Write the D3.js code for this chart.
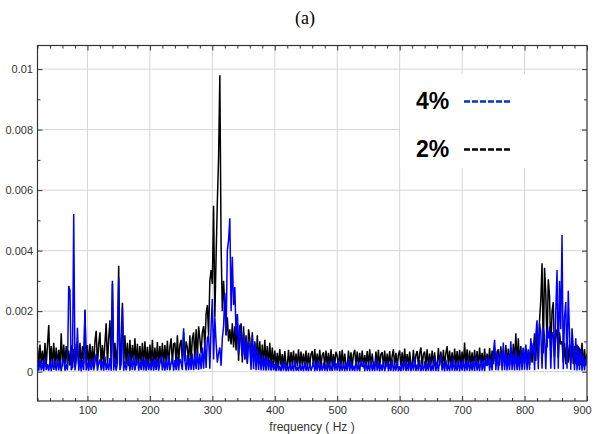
<!DOCTYPE html>
<html>
<head>
<meta charset="utf-8">
<script src="https://cdn.jsdelivr.net/npm/d3@7"></script>
<style>
  body { margin: 0; background: #fff; }
  svg { display: block; }
</style>
</head>
<body>
<svg id="chart" width="595" height="434"></svg>
<script>
// Spectrum sampling grid (Hz)
const freqStart = 20;
const freqStep = 2;

// Amplitude spectra, in units of 1e-5, one value per 2 Hz from 20 Hz to 900 Hz
const amp2pct = [
  82,18,90,25,70,15,95,22,88,154,
  20,85,15,95,25,80,18,72,22,127,
  18,90,25,85,15,70,20,88,12,75,
  15,92,70,20,95,18,85,25,205,20,
  88,15,92,22,85,18,100,135,20,90,
  130,18,88,25,95,160,20,110,170,30,
  300,20,95,25,85,350,20,90,228,22,
  120,25,95,18,105,22,88,30,110,20,
  92,18,85,25,95,20,100,22,82,18,
  90,22,105,18,80,25,98,20,85,28,
  95,20,88,30,102,22,80,110,25,92,
  95,25,120,30,88,105,28,130,35,100,
  80,30,120,35,110,130,40,140,45,150,
  110,60,130,150,80,190,220,120,300,336,
  290,548,180,380,560,708,980,420,200,300,
  210,120,180,100,140,90,160,80,150,70,
  190,35,130,160,30,150,40,120,25,140,
  110,25,130,30,95,20,120,28,100,22,
  90,20,105,25,85,18,95,22,80,20,
  70,18,62,15,75,20,58,14,68,22,
  20,72,15,65,22,70,16,60,18,74,
  15,66,22,60,18,70,14,62,20,58,
  68,16,75,20,60,15,72,18,55,64,
  18,70,20,62,14,74,18,58,22,66,
  52,15,68,20,72,16,60,22,14,70,
  18,64,15,58,72,20,66,16,62,18,
  70,14,55,20,68,18,74,15,60,22,
  16,66,20,72,14,58,64,18,70,15,
  60,20,68,16,52,74,18,62,15,56,
  70,18,64,15,76,20,58,16,66,22,
  20,72,15,55,68,18,62,80,16,58,
  66,18,74,15,60,22,70,16,64,20,
  18,78,20,66,15,72,18,62,84,20,
  70,18,64,15,76,22,68,16,72,20,
  66,20,96,18,74,15,70,22,64,18,
  72,20,68,15,80,22,62,18,76,20,
  60,22,78,18,70,25,82,18,66,74,
  20,84,25,72,18,88,25,76,20,80,
  22,92,25,127,20,110,25,85,20,78,
  25,80,30,74,22,90,30,66,127,35,
  150,40,170,236,358,60,343,260,80,305,
  250,60,200,230,50,120,140,45,130,90,
  100,30,95,25,105,30,90,28,100,25,
  85,25,90,20,80,22,95,18,75,20,
  60
];

const amp4pct = [
  42,3,38,4,30,2,45,5,25,3,
  35,2,40,6,28,3,45,4,32,2,
  30,45,3,25,4,283,268,5,15,521,
  4,35,145,3,40,2,38,5,200,4,
  30,3,38,5,45,4,30,60,3,28,
  40,4,35,3,50,5,28,4,45,3,
  290,4,40,3,30,310,5,25,210,3,
  35,4,28,60,3,40,5,55,4,30,
  45,3,32,5,50,4,38,3,42,5,
  30,4,48,3,35,5,44,3,28,52,
  4,40,3,36,5,55,4,30,45,3,
  38,5,50,4,42,30,5,143,35,4,
  55,5,45,6,60,5,50,8,70,6,
  60,8,80,10,95,12,110,120,10,150,
  240,40,180,95,30,60,80,20,110,150,
  260,120,400,435,507,200,380,220,280,120,
  190,60,155,90,50,130,40,110,30,95,
  85,6,120,8,100,5,75,6,60,4,
  55,4,45,3,50,4,40,3,35,4,
  25,2,32,3,18,2,28,3,35,2,
  20,2,30,3,24,2,38,3,16,2,
  28,3,22,2,34,3,18,2,30,3,
  15,36,2,26,3,40,2,22,3,30,
  3,24,2,35,3,20,2,42,3,28,
  3,38,2,22,3,30,2,26,3,45,
  2,32,3,20,2,36,3,24,2,40,
  16,28,2,34,3,22,2,38,3,26,
  2,44,3,30,2,24,3,36,2,20,
  33,2,26,3,40,2,22,3,35,2,
  18,2,30,3,42,2,25,3,36,2,
  28,3,45,2,24,3,38,2,20,3,
  34,2,26,3,40,2,22,3,48,2,
  30,2,36,55,3,28,2,40,3,25,
  2,34,3,44,2,26,3,38,2,30,
  3,40,2,32,3,46,2,28,3,36,
  2,50,3,30,2,42,3,35,2,48,
  18,55,3,40,4,60,105,5,62,4,
  45,70,4,96,5,65,4,55,5,100,
  5,60,4,75,5,50,4,70,5,80,
  6,90,5,70,6,110,60,95,5,120,
  170,8,160,130,10,145,120,8,140,110,
  150,10,130,120,8,200,336,10,300,140,
  452,8,180,230,10,267,120,6,143,80,
  5,110,4,85,5,75,3,55,4,45,
  30
];

const ampUnit = 1e-5;

const xTickValues = [100, 200, 300, 400, 500, 600, 700, 800, 900];
const xGridValues = [100, 200, 300, 400, 500, 600, 700, 800];
const yTickValues = [0, 0.002, 0.004, 0.006, 0.008, 0.01];
const yTickLabels = ["0", "0.002", "0.004", "0.006", "0.008", "0.01"];

const seriesNames = ["2%", "4%"];
const legendOrder = ["4%", "2%"];

// ---------------------------------------------------------------
const svg = d3.select("#chart");
const plot = { left: 37.5, right: 587, top: 45.5, bottom: 401 };

const x = d3.scaleLinear().domain([20, 900]).range([plot.left, plot.right]);
const y = d3.scaleLinear().domain([-0.00097, 0.01078]).range([plot.bottom, plot.top]);

const colors = { "2%": "#000000", "4%": "#0000ff" };
const legendColors = { "2%": "#000000", "4%": "#0033cc" };

const series = {
  "2%": amp2pct.map((v, i) => ({ f: freqStart + i * freqStep, a: v * ampUnit })),
  "4%": amp4pct.map((v, i) => ({ f: freqStart + i * freqStep, a: v * ampUnit }))
};

svg.append("defs").append("clipPath").attr("id", "plotClip")
  .append("rect")
  .attr("x", plot.left).attr("y", plot.top)
  .attr("width", plot.right - plot.left).attr("height", plot.bottom - plot.top);

// grid
const grid = svg.append("g").attr("stroke", "#d6d6d6").attr("stroke-width", 1);
grid.selectAll("line.v").data(xGridValues).join("line")
  .attr("x1", d => x(d)).attr("x2", d => x(d))
  .attr("y1", plot.top).attr("y2", plot.bottom);
grid.selectAll("line.h").data(yTickValues).join("line")
  .attr("x1", plot.left).attr("x2", plot.right)
  .attr("y1", d => y(d)).attr("y2", d => y(d));

// spectra (2% underneath, 4% on top)
const line = d3.line().x(d => x(d.f)).y(d => y(d.a));
const dataG = svg.append("g").attr("clip-path", "url(#plotClip)");
seriesNames.forEach(name => {
  dataG.append("path")
    .datum(series[name])
    .attr("fill", "none")
    .attr("stroke", colors[name])
    .attr("stroke-width", 1.5)
    .attr("stroke-linejoin", "bevel")
    .attr("d", line);
});

// legend panel
svg.append("rect")
  .attr("x", 400).attr("y", 74).attr("width", 180).attr("height", 94)
  .attr("fill", "#fff");
const legend = svg.append("g");
legendOrder.forEach((name, i) => {
  const cy = 101.5 + i * 48;
  legend.append("text")
    .attr("x", 416).attr("y", cy + 7.5)
    .attr("font-family", "'Liberation Sans', Arial, sans-serif")
    .attr("font-weight", "bold").attr("font-size", 23)
    .attr("fill", "#000")
    .text(name);
  legend.append("line")
    .attr("x1", 464).attr("x2", 511)
    .attr("y1", cy).attr("y2", cy)
    .attr("stroke", legendColors[name])
    .attr("stroke-width", 2.5)
    .attr("stroke-dasharray", "6,2");
});

// axes with inward ticks on all four sides
const fontFam = "'Liberation Sans', Arial, sans-serif";
const xMinor = d3.range(20, 901, 20).filter(v => v % 100 !== 0);
const yMinor = d3.range(0, 11).map(k => k * 0.001).filter((v, k) => k % 2 === 1);

function styleAxis(g) {
  g.select(".domain").remove();
  g.selectAll(".tick line").attr("stroke", "#333");
  g.selectAll(".tick text").attr("fill", "#333").attr("font-family", fontFam).attr("font-size", 11);
}

const xLabelAxis = svg.append("g").attr("transform", `translate(0,${plot.bottom})`)
  .call(d3.axisBottom(x).tickValues(xTickValues).tickFormat(d3.format("d"))
    .tickSizeInner(-5).tickSizeOuter(0).tickPadding(5))
  .call(styleAxis);
// keep the last label inside the page
xLabelAxis.selectAll(".tick text").filter(d => d === 900).attr("dx", -5);

svg.append("g").attr("transform", `translate(0,${plot.bottom})`)
  .call(d3.axisBottom(x).tickValues(xMinor).tickFormat("").tickSizeInner(-3).tickSizeOuter(0))
  .call(styleAxis);
svg.append("g").attr("transform", `translate(0,${plot.top})`)
  .call(d3.axisTop(x).tickValues(xTickValues).tickFormat("").tickSizeInner(-5).tickSizeOuter(0))
  .call(styleAxis);
svg.append("g").attr("transform", `translate(0,${plot.top})`)
  .call(d3.axisTop(x).tickValues(xMinor).tickFormat("").tickSizeInner(-3).tickSizeOuter(0))
  .call(styleAxis);

svg.append("g").attr("transform", `translate(${plot.left},0)`)
  .call(d3.axisLeft(y).tickValues(yTickValues).tickFormat((d, i) => yTickLabels[i])
    .tickSizeInner(-5).tickSizeOuter(0).tickPadding(4.5))
  .call(styleAxis);
svg.append("g").attr("transform", `translate(${plot.left},0)`)
  .call(d3.axisLeft(y).tickValues(yMinor).tickFormat("").tickSizeInner(-3).tickSizeOuter(0))
  .call(styleAxis);
svg.append("g").attr("transform", `translate(${plot.right},0)`)
  .call(d3.axisRight(y).tickValues(yTickValues).tickFormat("").tickSizeInner(-5).tickSizeOuter(0))
  .call(styleAxis);
svg.append("g").attr("transform", `translate(${plot.right},0)`)
  .call(d3.axisRight(y).tickValues(yMinor).tickFormat("").tickSizeInner(-3).tickSizeOuter(0))
  .call(styleAxis);

// frame
svg.append("rect")
  .attr("x", plot.left).attr("y", plot.top)
  .attr("width", plot.right - plot.left).attr("height", plot.bottom - plot.top)
  .attr("fill", "none").attr("stroke", "#333").attr("stroke-width", 1.2);

// titles
svg.append("text")
  .attr("x", 312).attr("y", 431)
  .attr("text-anchor", "middle")
  .attr("font-family", fontFam).attr("font-size", 12).attr("fill", "#333")
  .text("frequency ( Hz )");

svg.append("text")
  .attr("x", 305).attr("y", 24)
  .attr("text-anchor", "middle")
  .attr("font-family", "'Liberation Serif', 'Times New Roman', serif")
  .attr("font-size", 18).attr("fill", "#000")
  .text("(a)");
</script>
</body>
</html>
